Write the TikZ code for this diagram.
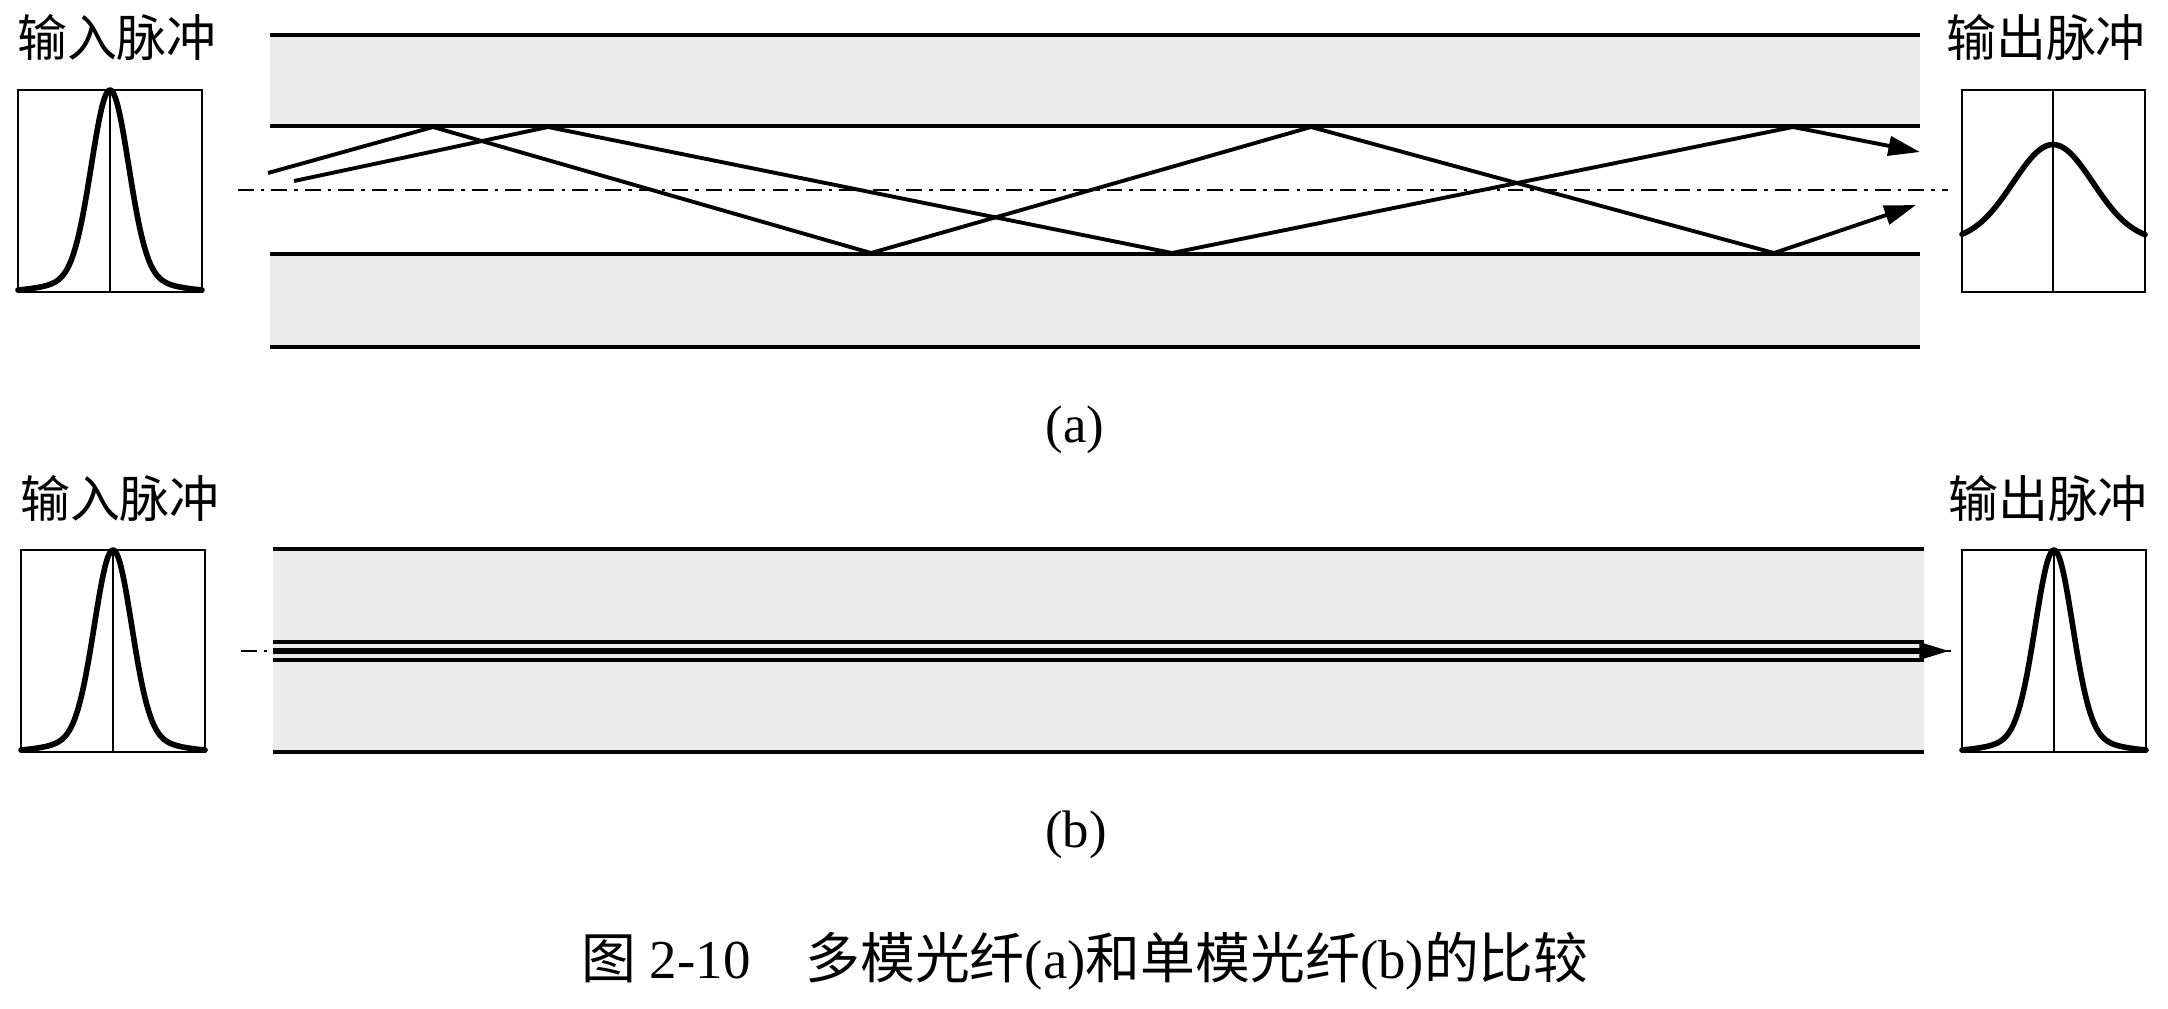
\documentclass[tikz,border=0pt]{standalone}
\usepackage{fontspec}
\setmainfont{Liberation Serif}
\newfontfamily\cjk{Noto Sans CJK SC}
\usetikzlibrary{arrows.meta}

\begin{document}
\begin{tikzpicture}[x=0.01cm,y=-0.01cm,
    lbl/.style={inner sep=0pt,font=\fontsize{14.2pt}{17pt}\selectfont},
    sublbl/.style={inner sep=0pt,font=\fontsize{15pt}{18pt}\selectfont},
    clad/.style={fill=black!8},
    wall/.style={line width=0.9pt},
    axisline/.style={line width=0.5pt,dash pattern=on 4.5pt off 2pt on 1pt off 2pt},
    ray/.style={line width=1.1pt,-{Triangle[length=9pt,width=5.5pt]}},
    beam/.style={line width=1.85pt,-{Triangle[length=9pt,width=4.5pt]}},
    pbox/.style={line width=0.5pt},
    pulse/.style={line width=1.6pt,line cap=round,line join=round,smooth,samples=60,variable=\x}]
      \useasboundingbox (0,0) rectangle (2168,1008);
      \fill[clad] (270,35) rectangle (1920,126);
      \fill[clad] (270,254) rectangle (1920,347);
      \foreach \y in {35,126,254,347}
        \draw[wall] (270,\y) -- (1920,\y);
      \draw[axisline] (238,190) -- (1948,190);
      \draw[ray] (268,173) -- (433,127) -- (871,253) -- (1311,127) -- (1774,253) -- (1916,205);
      \draw[ray] (294,181) -- (548,127) -- (1172,253) -- (1793,127) -- (1920,152);
      \draw[pbox] (18,90) rectangle (202,292) (110,90) -- (110,292);
      \draw[pulse,domain=18:202] plot ({\x},{292-202*(0.92*exp(-((\x-110)^2)/685)+0.08*exp(-((\x-110)^2)/4050))});
      \draw[pbox] (1962,90) rectangle (2145,292) (2053,90) -- (2053,292);
      \draw[pulse,domain=1962:2145] plot ({\x},{292-202*(0.25+0.48*exp(-((\x-2053)^2)/3200))});
      \node[lbl] (inA) at (117,37) {\cjk 输入脉冲};
      \node[lbl] (outA) at (2046,37) {\cjk 输出脉冲};
      \node[sublbl] (capA) at (1075,430) {(a)};

      \fill[clad] (273,549) rectangle (1924,752);
      \foreach \y in {549,642,660,752}
        \draw[wall] (273,\y) -- (1924,\y);
      \draw[axisline] (241,651) -- (1951,651);
      \draw[beam] (273,651) -- (1951,651);
      \draw[pbox] (21,550) rectangle (205,752) (113,550) -- (113,752);
      \draw[pulse,domain=21:205] plot ({\x},{752-202*(0.92*exp(-((\x-113)^2)/685)+0.08*exp(-((\x-113)^2)/4050))});
      \draw[pbox] (1962,550) rectangle (2146,752) (2054,550) -- (2054,752);
      \draw[pulse,domain=1962:2146] plot ({\x},{752-202*(0.92*exp(-((\x-2054)^2)/685)+0.08*exp(-((\x-2054)^2)/4050))});
      \node[lbl] (inB) at (120,498) {\cjk 输入脉冲};
      \node[lbl] (outB) at (2048,498) {\cjk 输出脉冲};
      \node[sublbl] (capB) at (1076,835) {(b)};

      \node[sublbl,font=\fontsize{15.6pt}{19pt}\selectfont] (title) at (1085,961) {{\cjk 图} 2-10\quad{\cjk 多模光纤}(a){\cjk 和单模光纤}(b){\cjk 的比较}};
    \end{tikzpicture}
\end{document}
